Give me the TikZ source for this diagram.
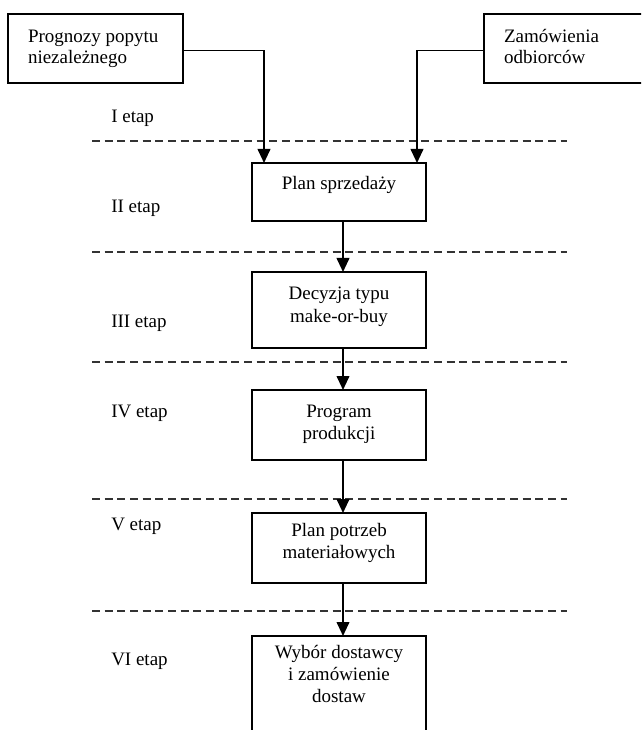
\documentclass[tikz,border=0pt]{standalone}
\usepackage{fontspec}
\setmainfont{Liberation Serif}
\usetikzlibrary{arrows.meta,calc}
\begin{document}
\begin{tikzpicture}[x=0.75pt,y=-0.75pt,
  every node/.style={font=\fontsize{14.25}{16.5}\selectfont, text=black},
  frame/.style={draw=black, line width=1.4pt, inner ysep=0pt, outer sep=0pt, anchor=north west},
  stagebox/.style={frame, inner xsep=0pt},
  sourcebox/.style={frame, inner xsep=15pt},
  conn/.style={line width=1.4pt, -{Triangle[length=10.5pt,width=9.5pt]}},
  divider/.style={line width=1.4pt, dash pattern=on 6pt off 3.5pt, draw=black!80},
  stagelabel/.style={anchor=base west, inner sep=0pt}]
\useasboundingbox (0,0) rectangle (641,730);
\clip (0,0) rectangle (641,730);

% input sources
\node[sourcebox] (demand) at (8,14)
  {\parbox[c][51.75pt][t]{101.25pt}{\fontsize{14.25}{15.5}\selectfont\raggedright\rule{0pt}{21.75pt}Prognozy popytu\\niezależnego}};
\node[sourcebox] (orders) at (484,14)
  {\parbox[c][51.75pt][t]{97.5pt}{\fontsize{14.25}{15.5}\selectfont\raggedright\rule{0pt}{21.75pt}Zamówienia\\odbiorców}};

% planning stages
\node[stagebox] (sales) at (252,163)
  {\parbox[c][43.5pt][t]{130.5pt}{\centering\rule{0pt}{20.25pt}Plan sprzedaży}};
\node[stagebox] (makebuy) at (252,272)
  {\parbox[c][57pt][t]{130.5pt}{\centering\rule{0pt}{21pt}Decyzja typu\\make-or-buy}};
\node[stagebox] (production) at (252,390)
  {\parbox[c][52.5pt][t]{130.5pt}{\centering\rule{0pt}{20.25pt}Program\\produkcji}};
\node[stagebox] (materials) at (252,513)
  {\parbox[c][52.5pt][t]{130.5pt}{\centering\rule{0pt}{17.25pt}Plan potrzeb\\materiałowych}};
\node[stagebox] (supplier) at (252,636)
  {\parbox[c][82.5pt][t]{130.5pt}{\centering\rule{0pt}{16.5pt}Wybór dostawcy\\i zamówienie\\dostaw}};

% stage separators
\foreach \yy in {141,252,362,499,611}
  \draw[divider] (92,\yy) -- (567,\yy);

% stage labels
\node[stagelabel] (st1) at (111,123) {I etap};
\node[stagelabel] (st2) at (111,213) {II etap};
\node[stagelabel] (st3) at (111,327) {III etap};
\node[stagelabel] (st4) at (111,417) {IV etap};
\node[stagelabel] (st5) at (111,530) {V etap};
\node[stagelabel] (st6) at (111,665) {VI etap};

% flow
\draw[conn] ($(demand.east)+(0,2)$) -| ($(sales.north west)+(12,0)$);
\draw[conn] ($(orders.west)+(0,2)$) -| ($(sales.north east)+(-9,0)$);
\draw[conn] ($(sales.south)+(4,0)$) -- ($(makebuy.north)+(4,0)$);
\draw[conn] ($(makebuy.south)+(4,0)$) -- ($(production.north)+(4,0)$);
\draw[conn] ($(production.south)+(4,0)$) -- ($(materials.north)+(4,0)$);
\draw[conn] ($(materials.south)+(4,0)$) -- ($(supplier.north)+(4,0)$);
\end{tikzpicture}
\end{document}
